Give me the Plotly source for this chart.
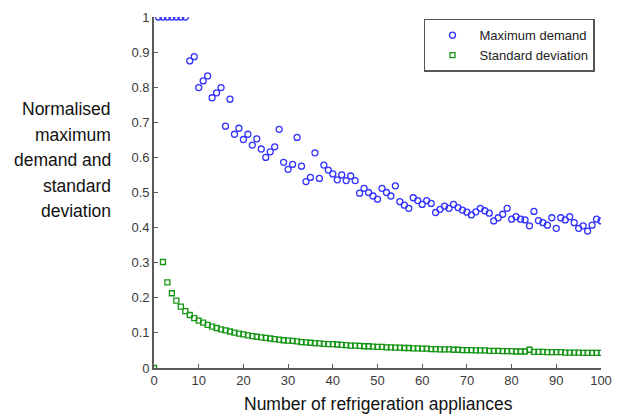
import plotly.graph_objects as go

# ---- data ----
n_max = list(range(1, 101))
max_demand = [
    1, 1, 1, 1, 1, 1, 1, 0.875, 0.887, 0.799,
    0.818, 0.832, 0.770, 0.784, 0.799, 0.689, 0.766, 0.666, 0.683, 0.651,
    0.666, 0.635, 0.653, 0.624, 0.600, 0.616, 0.630, 0.680, 0.586, 0.566,
    0.580, 0.657, 0.575, 0.531, 0.543, 0.613, 0.540, 0.578, 0.564, 0.553,
    0.536, 0.550, 0.534, 0.547, 0.534, 0.498, 0.512, 0.500, 0.490, 0.481,
    0.512, 0.500, 0.490, 0.519, 0.474, 0.464, 0.455, 0.485, 0.477, 0.466,
    0.477, 0.469, 0.443, 0.452, 0.461, 0.455, 0.466, 0.457, 0.450, 0.444,
    0.436, 0.445, 0.455, 0.448, 0.441, 0.419, 0.428, 0.438, 0.455, 0.424,
    0.431, 0.424, 0.422, 0.405, 0.446, 0.420, 0.414, 0.407, 0.428, 0.398,
    0.428, 0.422, 0.431, 0.414, 0.398, 0.405, 0.390, 0.407, 0.424, 0.419,
]

n_std = [0] + list(range(2, 101))
std_dev = [
    0, 0.302, 0.244, 0.213, 0.192, 0.175, 0.162, 0.151, 0.142, 0.135,
    0.129, 0.123, 0.118, 0.114, 0.110, 0.107, 0.104, 0.101, 0.098, 0.096,
    0.093, 0.091, 0.089, 0.087, 0.086, 0.084, 0.082, 0.081, 0.079, 0.078,
    0.077, 0.076, 0.074, 0.073, 0.072, 0.071, 0.070, 0.069, 0.068, 0.068,
    0.067, 0.066, 0.065, 0.064, 0.064, 0.063, 0.062, 0.062, 0.061, 0.060,
    0.060, 0.059, 0.059, 0.058, 0.058, 0.057, 0.057, 0.056, 0.056, 0.055,
    0.055, 0.054, 0.054, 0.053, 0.053, 0.053, 0.052, 0.052, 0.051, 0.051,
    0.051, 0.050, 0.050, 0.050, 0.049, 0.049, 0.049, 0.048, 0.048, 0.048,
    0.047, 0.047, 0.047, 0.052, 0.046, 0.046, 0.046, 0.045, 0.045, 0.045,
    0.045, 0.044, 0.044, 0.044, 0.044, 0.043, 0.043, 0.043, 0.043, 0.043,
]

x_ticks = [0, 10, 20, 30, 40, 50, 60, 70, 80, 90, 100]
y_ticks = [0, 0.1, 0.2, 0.3, 0.4, 0.5, 0.6, 0.7, 0.8, 0.9, 1]
y_tick_labels = ["0", "0.1", "0.2", "0.3", "0.4", "0.5", "0.6", "0.7", "0.8", "0.9", "1"]
y_title_lines = ["Normalised", "maximum", "demand and", "standard", "deviation"]

FONT = "Liberation Sans, Arial, sans-serif"

fig = go.Figure()
fig.add_trace(go.Scatter(
    x=n_max, y=max_demand, mode="markers", name="Maximum demand",
    marker=dict(symbol="circle-open", size=6, color="rgb(50,50,255)", line=dict(width=1.3)),
))
fig.add_trace(go.Scatter(
    x=n_std, y=std_dev, mode="markers", name="Standard deviation",
    marker=dict(symbol="square-open", size=5, color="rgb(20,150,20)", line=dict(width=1.3)),
))

axis_common = dict(
    showgrid=False, zeroline=False, showline=True, linecolor="#5a5a5a", linewidth=1.6,
    ticks="inside", ticklen=4, tickwidth=1.3, tickcolor="#5a5a5a",
    tickfont=dict(family=FONT, size=13, color="#3a3a3a"), mirror=False,
    automargin=False,
)
fig.update_xaxes(range=[0, 100], tickvals=x_ticks, **axis_common)
fig.update_yaxes(range=[0, 1], tickvals=y_ticks, ticktext=y_tick_labels, **axis_common)

annotations = [dict(
    text="Number of refrigeration appliances", xref="paper", yref="paper",
    x=0.503, y=-0.068, xanchor="center", yanchor="top", showarrow=False,
    font=dict(family=FONT, size=17.5, color="#111111"),
)]
line_y = [109, 135, 160, 186, 211]
for txt, py in zip(y_title_lines, line_y):
    annotations.append(dict(
        text=txt, xref="paper", yref="paper",
        x=(113 - 154) / 447, y=(368 - py) / 351, xanchor="right", yanchor="middle",
        showarrow=False, font=dict(family=FONT, size=17.5, color="#111111"),
    ))

fig.update_layout(
    width=620, height=414, autosize=False,
    margin=dict(l=154, r=19, t=17, b=46, autoexpand=False),
    plot_bgcolor="white", paper_bgcolor="white",
    annotations=annotations,
    legend=dict(
        x=0.604, y=0.995, xanchor="left", yanchor="top",
        bordercolor="#555555", borderwidth=1.5, bgcolor="white",
        font=dict(family=FONT, size=13, color="#222222"),
        itemwidth=44, tracegroupgap=0,
    ),
    showlegend=True,
)

fig.write_html("out.html", config={"displayModeBar": False})

# remove the default browser body margin so the figure sits at the page origin
with open("out.html", "r", encoding="utf-8") as f:
    html = f.read()
html = html.replace("<head>", "<head><style>html,body{margin:0;padding:0;overflow:hidden;}</style>", 1)
with open("out.html", "w", encoding="utf-8") as f:
    f.write(html)
